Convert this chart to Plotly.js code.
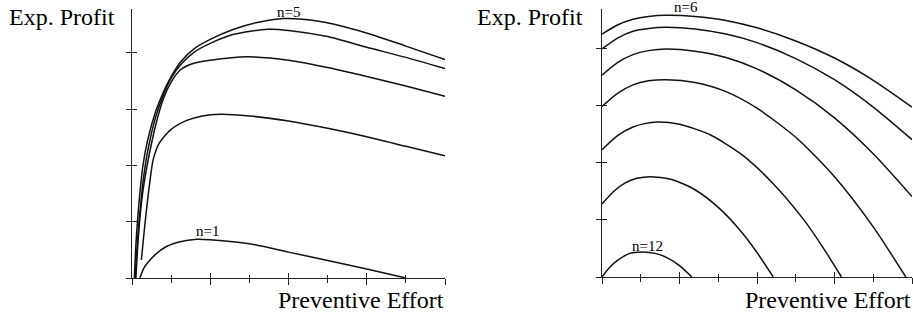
<!DOCTYPE html>
<html>
<head>
<meta charset="utf-8">
<script src="https://cdn.plot.ly/plotly-3.0.1.min.js"></script>
<style>
  html, body { margin: 0; padding: 0; background: #fff; }
  #chart { width: 913px; height: 316px; }
</style>
</head>
<body>
<div id="chart"></div>
<script>
// ---------- Left panel: n = 1 .. 5 ----------
const effN1 = [0.1, 0.15, 0.2, 0.3, 0.44, 0.6, 0.83, 1.0, 1.5, 2.0, 2.5, 3.0, 3.5];
const profN1 = [0, 0.17, 0.27, 0.42, 0.56, 0.64, 0.69, 0.68, 0.61, 0.46, 0.31, 0.16, 0];

const effN2 = [0.12, 0.15, 0.18, 0.22, 0.27, 0.35, 0.5, 0.7, 0.9, 1.13, 1.5, 2.0, 2.5, 3.0, 3.5, 4.0];
const profN2 = [0.32, 0.75, 1.15, 1.62, 2.1, 2.4, 2.64, 2.8, 2.88, 2.91, 2.88, 2.79, 2.66, 2.51, 2.34, 2.17];

const effN3 = [0.05, 0.07, 0.1, 0.14, 0.2, 0.3, 0.4, 0.5, 0.62, 0.8, 1.0, 1.47, 2.0, 2.5, 3.0, 3.5, 4.0];
const profN3 = [0, 0.5, 1.05, 1.55, 2.05, 2.7, 3.18, 3.48, 3.7, 3.82, 3.87, 3.93, 3.87, 3.74, 3.58, 3.41, 3.23];

const effN4 = [0.04, 0.06, 0.08, 0.1, 0.14, 0.2, 0.3, 0.4, 0.5, 0.62, 0.8, 1.0, 1.3, 1.73, 2.0, 2.5, 3.0, 3.5, 4.0];
const profN4 = [0, 0.45, 0.85, 1.15, 1.7, 2.25, 2.85, 3.25, 3.55, 3.79, 4.02, 4.17, 4.33, 4.42, 4.40, 4.29, 4.10, 3.92, 3.72];

const effN5 = [0.03, 0.05, 0.075, 0.1, 0.14, 0.2, 0.3, 0.4, 0.5, 0.62, 0.8, 1.0, 1.3, 1.6, 1.94, 2.3, 2.7, 3.1, 3.5, 4.0];
const profN5 = [0, 0.6, 1.1, 1.5, 2.0, 2.45, 2.95, 3.3, 3.58, 3.84, 4.08, 4.24, 4.42, 4.54, 4.61, 4.58, 4.47, 4.31, 4.12, 3.88];

// ---------- Right panel: n = 6 .. 12 ----------
const effN6 = [0, 0.2, 0.4, 0.6, 0.83, 1.2, 1.6, 2.0, 2.5, 3.0, 3.5, 4.0];
const profN6 = [4.26, 4.42, 4.52, 4.57, 4.59, 4.57, 4.50, 4.37, 4.14, 3.84, 3.45, 2.98];

const effN7 = [0, 0.2, 0.4, 0.6, 0.83, 1.2, 1.6, 2.0, 2.5, 3.0, 3.5, 4.0];
const profN7 = [4.0, 4.19, 4.31, 4.36, 4.38, 4.35, 4.26, 4.11, 3.83, 3.46, 2.98, 2.41];

const effN8 = [0, 0.2, 0.4, 0.6, 0.83, 1.2, 1.6, 2.0, 2.5, 3.0, 3.5, 4.0];
const profN8 = [3.54, 3.76, 3.9, 3.97, 4.0, 3.96, 3.85, 3.65, 3.28, 2.79, 2.16, 1.41];

const effN9 = [0, 0.2, 0.4, 0.6, 0.83, 1.2, 1.6, 2.0, 2.5, 3.0, 3.5, 3.92];
const profN9 = [2.99, 3.22, 3.37, 3.44, 3.46, 3.41, 3.25, 2.96, 2.45, 1.76, 0.88, 0];

const effN10 = [0, 0.2, 0.4, 0.55, 0.71, 1.0, 1.4, 1.8, 2.2, 2.6, 2.85, 3.09];
const profN10 = [2.23, 2.48, 2.63, 2.69, 2.72, 2.68, 2.49, 2.15, 1.65, 1.01, 0.52, 0];

const effN11 = [0, 0.15, 0.3, 0.45, 0.62, 0.9, 1.2, 1.5, 1.8, 2.0, 2.21];
const profN11 = [1.28, 1.5, 1.65, 1.73, 1.76, 1.71, 1.53, 1.22, 0.79, 0.43, 0];

const effN12 = [0, 0.1, 0.2, 0.35, 0.52, 0.7, 0.85, 1.0, 1.16];
const profN12 = [0, 0.17, 0.29, 0.41, 0.44, 0.41, 0.33, 0.2, 0];

// labels
const yTitle = "Exp. Profit";
const xTitle = "Preventive Effort";
const curveLabels = ["n=1", "n=5", "n=6", "n=12"];

// ---------- build ----------
const INK = '#111';
const AX = '#222';
const FONT = 'Liberation Serif, Times New Roman, serif';

function curve(x, y, xa, ya) {
  return { x: x, y: y, xaxis: xa, yaxis: ya, type: 'scatter', mode: 'lines',
           line: { color: INK, width: 1.5, shape: 'spline', smoothing: 0.7 },
           hoverinfo: 'skip', showlegend: false };
}
// placeholder trace (no drawn point) so the tick-overlay axes get created
function holder(xa, ya) {
  return { x: [null], y: [null], xaxis: xa, yaxis: ya, type: 'scatter', mode: 'lines',
           showlegend: false, hoverinfo: 'skip' };
}

const data = [
  curve(effN1, profN1, 'x', 'y'),
  curve(effN2, profN2, 'x', 'y'),
  curve(effN3, profN3, 'x', 'y'),
  curve(effN4, profN4, 'x', 'y'),
  curve(effN5, profN5, 'x', 'y'),
  curve(effN6, profN6, 'x2', 'y2'),
  curve(effN7, profN7, 'x2', 'y2'),
  curve(effN8, profN8, 'x2', 'y2'),
  curve(effN9, profN9, 'x2', 'y2'),
  curve(effN10, profN10, 'x2', 'y2'),
  curve(effN11, profN11, 'x2', 'y2'),
  curve(effN12, profN12, 'x2', 'y2'),
  holder('x3', 'y3'),
  holder('x4', 'y4')
];

const W = 913, H = 316;
const px = v => v / W;
const py = v => 1 - v / H;

function mainX(domain, anchor) {
  return { domain: domain, anchor: anchor, range: [0, 4], autorange: false, showgrid: false, zeroline: false,
    showline: true, linecolor: AX, linewidth: 1, ticks: 'outside', ticklen: 6, tickwidth: 1,
    tickcolor: AX, tickmode: 'linear', tick0: 0, dtick: 1, showticklabels: false, fixedrange: true,
    minor: { ticks: 'outside', ticklen: 4, tickwidth: 1, tickcolor: AX, tick0: 0, dtick: 0.5, showgrid: false } };
}
function mainY(domain, anchor, top) {
  return { domain: domain, anchor: anchor, range: [0, top], autorange: false, showgrid: false, zeroline: false,
    showline: true, linecolor: AX, linewidth: 1, ticks: 'outside', ticklen: 5, tickwidth: 1,
    tickcolor: AX, tickmode: 'linear', tick0: 0, dtick: 1, showticklabels: false, fixedrange: true };
}
function overX(over, anchor) {
  return { overlaying: over, anchor: anchor, range: [0, 4], autorange: false, showgrid: false, zeroline: false,
    showline: false, ticks: 'inside', ticklen: 5, tickwidth: 1, tickcolor: AX, tickmode: 'linear', tick0: 0, dtick: 1,
    showticklabels: false, fixedrange: true,
    minor: { ticks: 'inside', ticklen: 3, tickwidth: 1, tickcolor: AX, tick0: 0, dtick: 0.5, showgrid: false } };
}
function overY(over, anchor, top) {
  return { overlaying: over, anchor: anchor, range: [0, top], autorange: false, showgrid: false, zeroline: false,
    showline: false, ticks: 'inside', ticklen: 5, tickwidth: 1, tickcolor: AX, tickmode: 'linear', tick0: 0, dtick: 1,
    showticklabels: false, fixedrange: true };
}

const leftTop = 4.78, rightTop = 4.70;

const titleFont = { family: FONT, size: 24, color: '#000' };
const labelFont = { family: FONT, size: 15, color: '#000' };

const layout = {
  width: W, height: H,
  margin: { l: 0, r: 0, t: 0, b: 0, pad: 0 },
  paper_bgcolor: '#fff', plot_bgcolor: 'rgba(0,0,0,0)',
  font: { family: FONT },
  showlegend: false,
  xaxis: mainX([px(132), px(445)], 'y'),
  yaxis: mainY([py(278), py(9)], 'x', leftTop),
  xaxis2: mainX([px(602), px(912)], 'y2'),
  yaxis2: mainY([py(277), py(9)], 'x2', rightTop),
  xaxis3: overX('x', 'y3'),
  yaxis3: overY('y', 'x3', leftTop),
  xaxis4: overX('x2', 'y4'),
  yaxis4: overY('y2', 'x4', rightTop),
  annotations: [
    { text: yTitle, xref: 'paper', yref: 'paper', x: px(117), y: py(17), xanchor: 'right', yanchor: 'middle', showarrow: false, font: titleFont },
    { text: xTitle, xref: 'paper', yref: 'paper', x: px(446), y: py(300), xanchor: 'right', yanchor: 'middle', showarrow: false, font: titleFont },
    { text: yTitle, xref: 'paper', yref: 'paper', x: px(585), y: py(17), xanchor: 'right', yanchor: 'middle', showarrow: false, font: titleFont },
    { text: xTitle, xref: 'paper', yref: 'paper', x: 1, y: py(300), xanchor: 'right', yanchor: 'middle', showarrow: false, font: titleFont },
    { text: curveLabels[0], xref: 'x', yref: 'y', x: 0.97, y: 0.83, xanchor: 'center', yanchor: 'middle', showarrow: false, font: labelFont },
    { text: curveLabels[1], xref: 'x', yref: 'y', x: 2.0, y: 4.73, xanchor: 'center', yanchor: 'middle', showarrow: false, font: labelFont },
    { text: curveLabels[2], xref: 'x2', yref: 'paper', x: 1.09, y: py(7), xanchor: 'center', yanchor: 'middle', showarrow: false, font: labelFont },
    { text: curveLabels[3], xref: 'x2', yref: 'y2', x: 0.59, y: 0.54, xanchor: 'center', yanchor: 'middle', showarrow: false, font: labelFont }
  ]
};

Plotly.newPlot('chart', data, layout, { staticPlot: true, displayModeBar: false });
</script>
</body>
</html>
